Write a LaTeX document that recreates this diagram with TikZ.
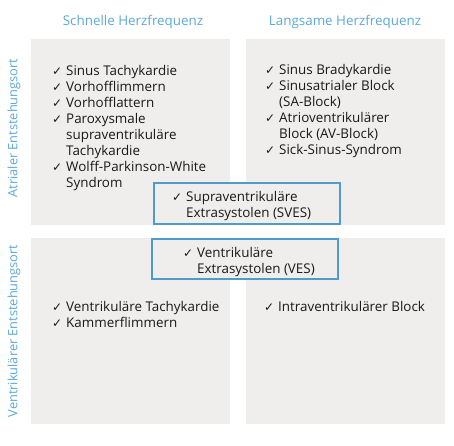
\documentclass[tikz,border=0pt]{standalone}
\usepackage{fontspec}
\usepackage{xcolor}
\usepackage{tikz}
\setmainfont{Open Sans}
\newfontfamily\symf{DejaVu Sans}
\definecolor{paneltone}{RGB}{239,238,237}
\definecolor{headblue}{RGB}{92,168,214}
\definecolor{boxblue}{RGB}{78,156,204}
\newcommand{\chk}{\makebox[14pt][l]{{\symf\fontsize{12}{10}\selectfont ✓}}}
\newcommand{\ind}{\hspace*{14pt}}

\begin{document}
\begin{tikzpicture}[x=1pt, y=-1pt,
    every node/.style={inner sep=0pt, font=\fontsize{13.4}{16}\selectfont},
    head/.style={text=headblue},
    items/.style={anchor=base west, align=left, text=black!90},
    xbox/.style={draw=boxblue, line width=1.4pt, fill=paneltone}]
        \useasboundingbox (0,0) rectangle (454,445);
        % four grey fields
        \foreach \x in {31,246}
        \foreach \y in {39,238}
        \fill[xshift=\x pt, yshift=-\y pt, paneltone] (0,0) rectangle (199,186);

        % headings
        \node[head, anchor=base] (fast) at (133,25) {Schnelle Herzfrequenz};
        \node[head, anchor=base] (slow) at (345,25) {Langsame Herzfrequenz};
        \node[head, rotate=90, font=\fontsize{12.8}{16}\selectfont] (atrial) at (14,128) {Atrialer Entstehungsort};
        \node[head, rotate=90, font=\fontsize{12.8}{16}\selectfont] (ventr) at (14,331) {Ventrikulärer Entstehungsort};

        % lists
        \node[items] (atrFast) at (52,75.5) {\begin{tabular}[t]{@{}l@{}}
            \chk Sinus Tachykardie\\
            \chk Vorhofflimmern\\
            \chk Vorhofflattern\\
            \chk Paroxysmale\\
            \ind supraventrikuläre\\
            \ind Tachykardie\\
            \chk Wolff-Parkinson-White\\
            \ind Syndrom\end{tabular}};
        \node[items] (atrSlow) at (265,74.5) {\begin{tabular}[t]{@{}l@{}}
            \chk Sinus Bradykardie\\
            \chk Sinusatrialer Block\\
            \ind (SA-Block)\\
            \chk Atrioventrikulärer\\
            \ind Block (AV-Block)\\
            \chk Sick-Sinus-Syndrom\end{tabular}};
        \node[items] (venFast) at (52,311.5) {\begin{tabular}[t]{@{}l@{}}
            \chk Ventrikuläre Tachykardie\\
            \chk Kammerflimmern\end{tabular}};
        \node[items] (venSlow) at (264,311.5) {\begin{tabular}[t]{@{}l@{}}
            \chk Intraventrikulärer Block\end{tabular}};

        % extrasystole boxes
        \node[xbox, minimum width=186pt, minimum height=41pt] (svesBox) at (247,203.5) {};
        \node[items] (sves) at (172,201.5) {\begin{tabular}[t]{@{}l@{}}
            \chk Supraventrikuläre\\
            \ind Extrasystolen (SVES)\end{tabular}};
        \node[xbox, minimum width=186pt, minimum height=40pt] (vesBox) at (245,259) {};
        \node[items] (ves) at (183,257.5) {\begin{tabular}[t]{@{}l@{}}
            \chk Ventrikuläre\\
            \ind Extrasystolen (VES)\end{tabular}};
    \end{tikzpicture}
\end{document}
